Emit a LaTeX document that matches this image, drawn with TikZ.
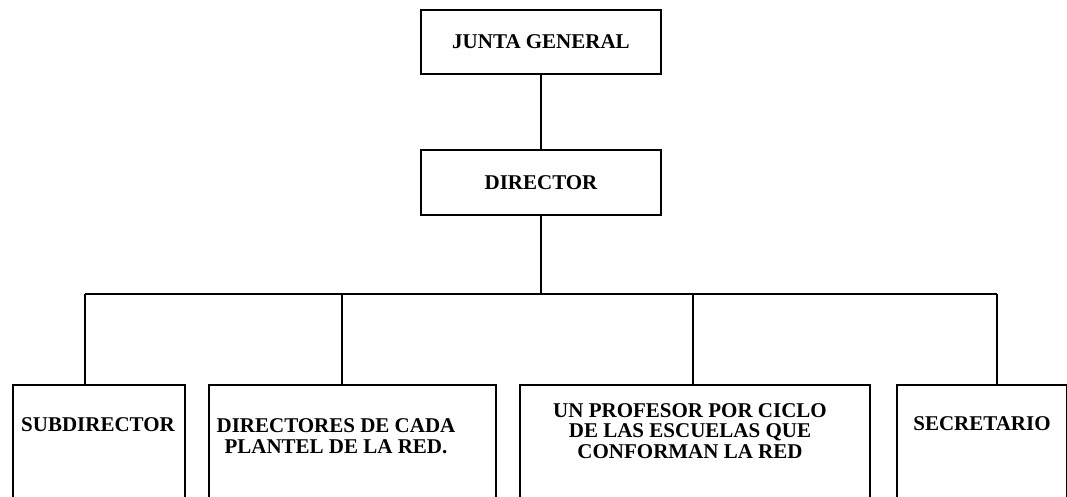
\documentclass[tikz,border=0pt]{standalone}
\usepackage{fontspec}
\setmainfont{Liberation Serif}
\usetikzlibrary{positioning}
\tikzset{
	box/.style={draw, rectangle, line width=1.8pt, inner sep=0pt},
	txt/.style={font=\fontsize{21}{20.5}\selectfont\bfseries, align=center, inner sep=0pt},
	link/.style={line width=1.8pt}
}

\begin{document}
\begin{tikzpicture}[x=1pt, y=-1pt]
	
	\clip (0,0) rectangle (1067,497);
	
	\node[box, txt, minimum width=240, minimum height=64] (junta) at (541,42) {JUNTA GENERAL};
	\node[box, txt, minimum width=240, minimum height=65] (dir) at (541,182.5) {DIRECTOR};
	
	\node[box, anchor=north west, minimum width=172, minimum height=150] (sub) at (12,384) {};
	\node[box, anchor=north west, minimum width=287, minimum height=150] (plantel) at (208,384) {};
	\node[box, anchor=north west, minimum width=350, minimum height=150] (prof) at (519,384) {};
	\node[box, anchor=north west, minimum width=170, minimum height=150] (sec) at (896,384) {};
	
	\node[txt] (tSub) at (98,425) {SUBDIRECTOR};
	\node[txt] (tPlantel) at (336,436) {DIRECTORES DE CADA\\PLANTEL DE LA RED.};
	\node[txt] (tProf) at (690,431) {UN PROFESOR POR CICLO\\DE LAS ESCUELAS QUE\\CONFORMAN LA RED};
	\node[txt] (tSec) at (982,424) {SECRETARIO};
	
	\draw[link] (junta) -- (dir);
	\coordinate (bus) at (541,294);
	\draw[link] (dir) -- (bus);
	
	\foreach \b/\x in {sub/85, plantel/342, prof/693, sec/997}
		\coordinate (d\b) at (\x,294);
	\draw[link] (dsub) -- (dsec);
	\foreach \b in {sub, plantel, prof, sec}
		\draw[link] (d\b) -- (d\b |- \b.north);

\end{tikzpicture}
\end{document}
